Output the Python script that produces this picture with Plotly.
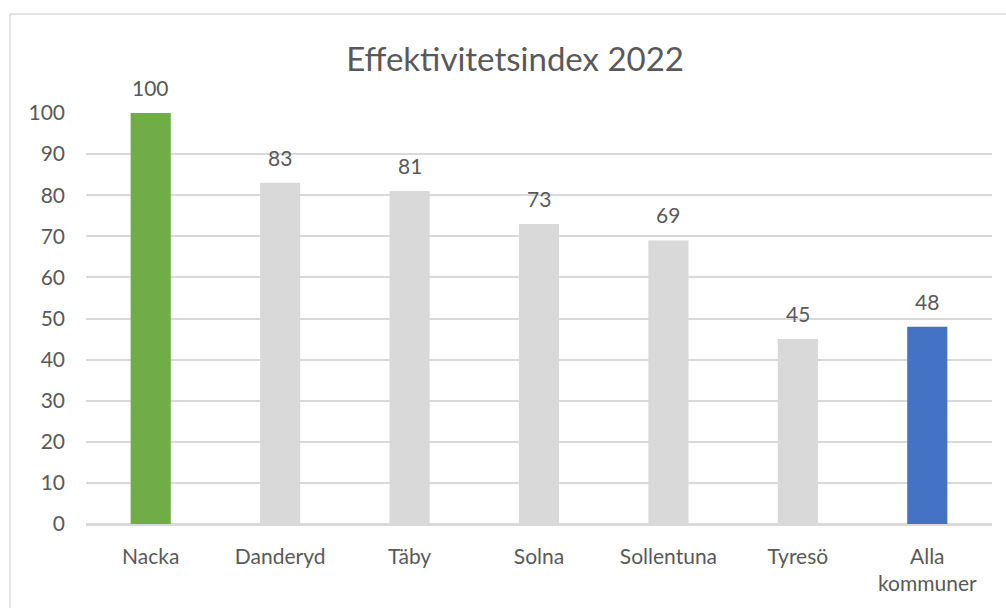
import plotly.graph_objects as go

categories = ["Nacka", "Danderyd", "Täby", "Solna", "Sollentuna", "Tyresö", "Alla<br>kommuner"]
values = [100, 83, 81, 73, 69, 45, 48]
bar_colors = ["#70AD47", "#D9D9D9", "#D9D9D9", "#D9D9D9", "#D9D9D9", "#D9D9D9", "#4472C4"]
y_ticks = [0, 10, 20, 30, 40, 50, 60, 70, 80, 90, 100]
title_text = "Effektivitetsindex 2022"

FONT = "Lato, Open Sans, sans-serif"
TXT = "#595959"

fig = go.Figure(go.Bar(x=categories, y=values, marker=dict(color=bar_colors, line=dict(width=0)),
                       width=0.31, hoverinfo="skip"))

for c, v in zip(categories, values):
    fig.add_annotation(x=c, y=v, text=str(v), showarrow=False, yanchor="bottom",
                       yshift=11, font=dict(family=FONT, size=21, color=TXT))

L, R, T, B = 86, 14, 113, 84
W, H = 1006, 608
pw, ph = W - L - R, H - T - B
def px(x):
    return (x - L) / pw
def py(y):
    return (H - B - y) / ph

fig.add_shape(type="rect", xref="paper", yref="paper",
              x0=px(10), x1=px(1012), y0=py(614), y1=py(14),
              line=dict(color="#D9D9D9", width=1.5), fillcolor="rgba(0,0,0,0)", layer="below")

fig.update_layout(
    width=W, height=H,
    margin=dict(l=L, r=R, t=T, b=B),
    paper_bgcolor="white", plot_bgcolor="white",
    showlegend=False,
    title=dict(text=title_text, x=0.512, xanchor="center", y=1 - 59 / H, yanchor="middle",
               font=dict(family=FONT, size=33, color=TXT)),
    font=dict(family=FONT, color=TXT),
    xaxis=dict(showgrid=False, showline=True, linecolor="#D9D9D9", linewidth=1.5,
               tickfont=dict(family=FONT, size=21, color=TXT), ticks="", ticklabelstandoff=13,
               fixedrange=True),
    yaxis=dict(range=[0, 100], tickvals=y_ticks, showgrid=True, gridcolor="#D9D9D9", gridwidth=1.5,
               zeroline=True, zerolinecolor="#D9D9D9", zerolinewidth=1.5, showline=False,
               tickfont=dict(family=FONT, size=21, color=TXT), ticks="", ticklabelstandoff=20,
               fixedrange=True),
    bargap=0.69,
)

fig.write_html("out.html", config={"displayModeBar": False},
               post_script="document.body.style.margin='0';document.body.style.padding='0';document.body.style.overflow='hidden';")
